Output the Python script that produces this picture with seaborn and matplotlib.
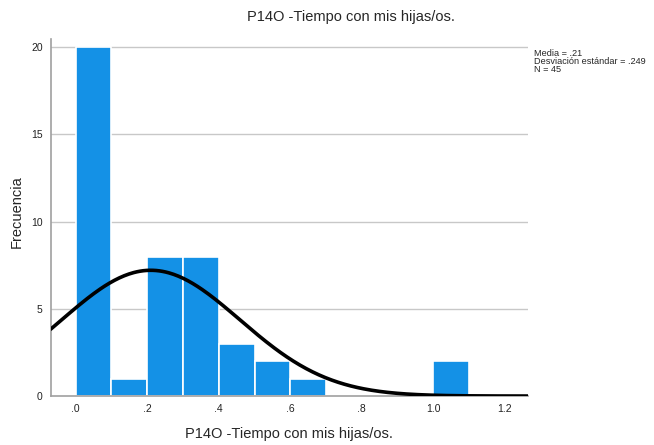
import numpy as np
import matplotlib
matplotlib.use("Agg")
import matplotlib.pyplot as plt
import seaborn as sns

# Histogram data (bins of width .1)
bin_edges = [0.0, 0.1, 0.2, 0.3, 0.4, 0.5, 0.6, 0.7, 0.8, 0.9, 1.0, 1.1]
counts = [20, 1, 8, 8, 3, 2, 1, 0, 0, 0, 2]
media = 0.21
desv = 0.249
n = 45
x_ticks = [0.0, 0.2, 0.4, 0.6, 0.8, 1.0, 1.2]
x_tick_labels = [".0", ".2", ".4", ".6", ".8", "1.0", "1.2"]
y_ticks = [0, 5, 10, 15, 20]
stats_lines = ["Media = .21", "Desviación estándar = .249", "N = 45"]

sns.set_style("white")
plt.rcParams["font.family"] = ["Liberation Sans", "DejaVu Sans"]

fig = plt.figure(figsize=(6.54, 4.45), dpi=100)
ax = fig.add_axes([0.078, 0.110, 0.729, 0.802])

# Horizontal gridlines behind the bars
for yv in y_ticks[1:]:
    ax.axhline(yv, color="#c8c8c8", lw=1, zorder=0)

bin_left = bin_edges[:-1]
sns.histplot(x=bin_left, weights=counts, bins=bin_edges, ax=ax,
             color="#1491e6", alpha=1, edgecolor="white", linewidth=1.2, zorder=2)

# Normal curve using the reported mean / sd / N
xs = np.linspace(-0.07, 1.265, 300)
bw = bin_edges[1] - bin_edges[0]
ys = n * bw / (desv * np.sqrt(2 * np.pi)) * np.exp(-0.5 * ((xs - media) / desv) ** 2)
ax.plot(xs, ys, color="black", lw=2.6, zorder=3)

ax.set_xlim(-0.069, 1.264)
ax.set_ylim(0, 20.46)
ax.set_xticks(x_ticks)
ax.set_xticklabels(x_tick_labels)
ax.set_yticks(y_ticks)
ax.tick_params(axis="both", length=0, labelsize=7.5, colors="#222222", pad=6)

for side in ["top", "right"]:
    ax.spines[side].set_visible(False)
for side in ["left", "bottom"]:
    ax.spines[side].set_color("#a0a0a0")
    ax.spines[side].set_linewidth(1.2)

ax.set_xlabel("P14O -Tiempo con mis hijas/os.", fontsize=10.5)
ax.set_ylabel("Frecuencia", fontsize=10.5)
ax.xaxis.set_label_coords(0.5, -0.088)
ax.yaxis.set_label_coords(-0.057, 0.518)
fig.text(0.537, 0.962, "P14O -Tiempo con mis hijas/os.", ha="center", va="center", fontsize=10.5)

# stats box at the right
for i, line in enumerate(stats_lines):
    fig.text(534 / 654, 1 - (54 + 7.6 * i) / 445, line,
             ha="left", va="center", fontsize=6.6)

fig.savefig("out.png", dpi=100)
